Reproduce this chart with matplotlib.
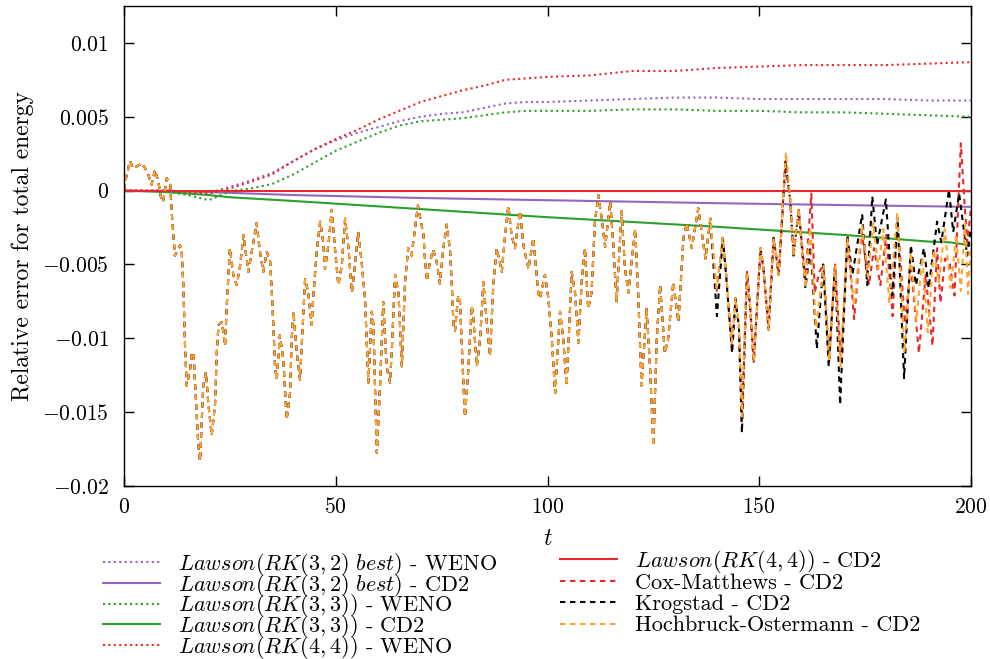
import numpy as np
import matplotlib
matplotlib.use("Agg")
import matplotlib.pyplot as plt
from matplotlib.ticker import FuncFormatter, FixedLocator

plt.rcParams['font.family'] = 'serif'
plt.rcParams['font.serif'] = ['cmr10', 'DejaVu Serif']
plt.rcParams['mathtext.fontset'] = 'cm'
plt.rcParams['axes.unicode_minus'] = False
plt.rcParams['axes.formatter.use_mathtext'] = True

# values, energy error in units of 1e-3
# smooth Lawson curves (WENO, dotted)
t_weno = [0, 10, 15, 20, 25, 30, 35, 40, 45, 50, 55, 60, 65, 70, 75, 80, 85, 90, 95,
          100, 110, 120, 130, 140, 150, 160, 170, 180, 190, 200]
rk44_weno = [0, 0, -0.1, -0.2, 0.15, 0.6, 1.1, 2.0, 2.8, 3.5, 4.1, 4.8, 5.4, 6.0, 6.4,
             6.8, 7.1, 7.5, 7.6, 7.7, 7.8, 8.1, 8.1, 8.3, 8.4, 8.5, 8.5, 8.5, 8.6, 8.7]
rk32_weno = [0, 0, -0.1, -0.15, 0.25, 0.7, 1.2, 2.0, 2.8, 3.4, 3.9, 4.3, 4.7, 5.0, 5.2,
             5.3, 5.6, 5.9, 6.0, 6.0, 6.1, 6.2, 6.3, 6.3, 6.2, 6.2, 6.2, 6.2, 6.1, 6.1]
rk33_weno = [0, -0.05, -0.3, -0.65, -0.05, 0.15, 0.45, 1.1, 1.9, 2.7, 3.3, 3.9, 4.4, 4.7,
             4.8, 4.9, 5.1, 5.3, 5.4, 5.4, 5.4, 5.5, 5.5, 5.4, 5.4, 5.3, 5.3, 5.2, 5.1, 5.0]

# Lawson curves (CD2, solid)
t_cd2 = [0, 10, 20, 25, 40, 70, 100, 140, 170, 190, 195, 200]
rk32_cd2 = [0, -0.02, -0.1, -0.15, -0.3, -0.5, -0.65, -0.85, -0.98, -1.06, -1.08, -1.1]
rk33_cd2 = [0, -0.1, -0.3, -0.45, -0.7, -1.25, -1.8, -2.45, -3.0, -3.45, -3.5, -3.7]
rk44_cd2 = [0, 0, 0, 0, 0, 0, 0, 0, 0, 0, 0, 0]

# exponential integrators, common part up to t ~ 136
t_common = [0.0, 0.4, 1.4, 2.2, 4.2, 5.0, 5.75, 6.5, 7.3, 8.1, 8.9, 9.3, 10.1, 10.9, 11.3,
            11.65, 12.0, 13.2, 13.6, 14.0, 14.4, 14.8, 15.6, 16.0, 16.4, 16.8, 17.55, 17.95,
            18.7, 19.35, 19.9, 20.7, 21.5, 21.9, 22.3, 23.1, 23.85, 24.25, 24.6, 25.0, 25.8,
            26.6, 27.4, 28.2, 29.35, 30.15, 31.3, 32.1, 32.9, 33.7, 34.5, 34.9, 35.25, 35.65,
            36.05, 36.8, 37.6, 38.4, 39.2, 39.6, 40.0, 40.8, 41.55, 41.95, 42.75, 43.5, 44.3,
            44.7, 45.5, 46.3, 47.05, 47.45, 48.25, 49.05, 49.8, 50.6, 51.4, 52.2, 53.0, 53.8,
            54.5, 55.3, 56.1, 56.9, 57.7, 58.5, 58.9, 59.3, 59.7, 60.45, 61.2, 62.0, 62.8,
            63.2, 64.0, 64.8, 65.6, 66.35, 67.1, 67.9, 69.4, 70.7, 71.1, 71.5, 72.25, 73.0,
            73.8, 74.6, 75.4, 76.2, 77.0, 77.4, 77.8, 78.15, 78.9, 79.3, 80.1, 80.5, 81.3,
            82.1, 82.5, 83.3, 84.1, 84.85, 85.6, 86.4, 87.2, 88.0, 89.2, 90.0, 90.75, 91.5,
            92.3, 93.5, 94.3, 95.5, 96.65, 97.8, 98.2, 99.4, 100.2, 101.0, 101.8, 102.95,
            103.7, 104.5, 105.7, 106.5, 107.3, 108.1, 108.85, 109.6, 110.4, 111.2, 112.0,
            112.8, 113.6, 114.8, 115.5, 116.3, 117.5, 118.3, 119.1, 120.7, 121.4, 122.2,
            123.4, 124.2, 125.0, 125.8, 126.6, 127.7, 128.5, 129.7, 130.9, 132.1, 132.9,
            134.05, 135.6]
v_common = [0.05, 0.75, 2.0, 1.5, 1.85, 1.5, 1.07, 0.4, 1.4, 0.6, -0.75, -0.63, 0.84, 0.4,
            -1.65, -3.0, -4.4, -3.7, -4.0, -6.4, -10.5, -13.2, -12.1, -11.0, -11.0, -13.2,
            -17.3, -18.3, -13.2, -12.3, -14.4, -16.6, -14.4, -11.0, -9.1, -8.9, -10.5, -7.8,
            -6.0, -3.9, -5.7, -6.4, -5.1, -3.0, -5.5, -4.15, -2.2, -4.15, -5.5, -4.15, -4.8,
            -6.9, -9.1, -11.9, -12.8, -9.8, -11.4, -15.5, -13.7, -10.0, -8.2, -11.0, -12.8,
            -10.5, -6.0, -6.9, -9.1, -7.1, -4.15, -2.1, -3.5, -5.3, -3.7, -1.3, -3.9, -6.4,
            -5.1, -1.9, -3.9, -6.9, -5.1, -2.8, -4.8, -7.3, -13.0, -8.2, -9.1, -13.7, -17.75,
            -13.2, -7.55, -11.9, -13.0, -11.0, -5.7, -6.9, -11.9, -6.2, -3.9, -4.4, -1.0,
            -3.0, -4.8, -6.1, -4.8, -4.0, -4.8, -6.3, -3.9, -2.3, -4.15, -6.4, -9.1, -9.5,
            -7.1, -7.3, -12.8, -15.3, -12.1, -7.8, -8.7, -11.9, -10.0, -6.2, -8.7, -11.2,
            -6.4, -3.9, -5.5, -3.0, -1.0, -3.0, -3.9, -1.4, -3.7, -5.3, -3.2, -6.9, -7.3,
            -5.7, -7.3, -10.0, -13.7, -8.2, -10.0, -13.2, -5.5, -6.9, -10.3, -6.0, -3.9,
            -8.0, -6.9, -2.1, -0.3, -1.9, -3.8, -0.75, -3.5, -7.55, -1.4, -5.3, -6.9, -2.6,
            -6.9, -13.2, -8.0, -11.9, -17.3, -10.0, -6.4, -11.0, -10.0, -6.2, -8.9, -3.2,
            -2.2, -3.9, -1.2]

# tails where the three methods drift apart
t_ho_tail = [137.3, 138.45, 139.9, 141.4, 142.1, 143.5, 144.4, 145.2, 145.9, 147.1, 147.9,
             148.7, 150.3, 151.0, 152.2, 153.4, 154.6, 155.4, 156.3, 157.3, 158.1, 159.3,
             160.9, 162.0, 163.4, 165.2, 166.5, 167.9, 169.2, 170.8, 172.4, 174.3, 175.6,
             176.9, 178.1, 179.3, 180.7, 182.6, 184.3, 185.8, 187.1, 188.5, 189.8, 191.2,
             192.4, 193.8, 195.2, 196.5, 197.6, 198.6, 199.3, 200.0]
v_ho_tail = [-4.6, -1.9, -6.6, -3.2, -5.3, -10.3, -7.3, -9.0, -15.3, -5.5, -8.0, -11.6,
             -3.9, -5.3, -9.4, -3.2, -5.7, -1.6, 2.6, -0.5, -4.4, -1.2, -6.6, -2.5, -9.3,
             -5.1, -11.5, -5.1, -11.9, -3.2, -7.8, -2.3, -5.8, -2.2, -5.3, -2.6, -7.6, -1.5,
             -11.0, -4.2, -8.8, -4.5, -9.6, -4.0, -6.2, -2.6, -6.6, -3.0, -6.8, -2.2, -7.0,
             -3.6]

t_kr_tail = [137.3, 138.45, 140.0, 141.4, 142.1, 143.6, 144.4, 145.2, 145.9, 147.1, 147.9,
             148.7, 150.3, 151.0, 152.2, 153.4, 154.6, 155.4, 156.2, 157.3, 158.1, 159.3,
             160.9, 162.1, 163.6, 165.1, 166.4, 167.9, 169.1, 170.8, 172.0, 174.3, 175.5,
             176.7, 177.8, 179.9, 181.4, 182.7, 184.2, 185.8, 187.0, 188.9, 190.0, 192.0,
             193.0, 194.8, 195.8, 197.2, 199.1, 200.0]
v_kr_tail = [-4.6, -1.9, -8.5, -3.2, -5.5, -11.0, -7.3, -9.3, -16.4, -5.5, -8.2, -11.6,
             -3.9, -5.3, -9.4, -3.2, -5.7, -1.8, 2.0, -0.6, -4.4, -1.3, -6.6, -3.8, -10.7,
             -5.0, -11.9, -5.0, -14.5, -3.0, -5.7, -1.6, -6.4, -0.4, -3.7, -0.6, -7.1, -2.0,
             -12.7, -3.7, -6.4, -3.9, -6.6, -2.1, -3.5, 0.05, -2.8, -0.2, -4.4, -2.5]

t_cm_tail = [137.3, 138.45, 139.9, 141.4, 142.1, 143.5, 144.4, 145.2, 145.9, 147.1, 147.9,
             148.7, 150.3, 151.0, 152.2, 153.4, 154.6, 155.4, 156.2, 157.3, 158.1, 159.3,
             160.9, 162.3, 163.1, 164.2, 165.2, 166.5, 167.9, 169.3, 170.9, 172.4, 174.2,
             175.9, 177.1, 178.6, 180.0, 181.5, 182.6, 184.4, 185.8, 187.7, 189.3, 190.9,
             192.0, 192.8, 193.9, 195.0, 196.1, 197.6, 198.4, 199.1, 200.0]
v_cm_tail = [-4.6, -1.9, -6.9, -3.2, -5.3, -10.6, -7.3, -9.2, -15.6, -5.5, -8.0, -11.6,
             -3.9, -5.3, -9.4, -3.2, -5.7, -1.8, 2.0, -0.6, -4.4, -1.3, -6.0, -0.2, -6.9,
             -5.5, -5.0, -11.6, -5.0, -11.5, -3.2, -8.7, -2.8, -6.4, -3.9, -6.4, -3.0, -8.5,
             -1.8, -9.0, -5.0, -11.0, -5.7, -10.5, -3.9, -7.6, -4.6, -5.0, -7.1, 3.2, -0.5,
             -3.5, -1.2]

t_ho = t_common + t_ho_tail
t_kr = t_common + t_kr_tail
t_cm = t_common + t_cm_tail
ho = np.array(v_common + v_ho_tail) * 1e-3
kr = np.array(v_common + v_kr_tail) * 1e-3
cm = np.array(v_common + v_cm_tail) * 1e-3

purple = '#9467bd'
green = '#2ca02c'
red = '#e8292b'
orange = '#ffa52c'
dot = (0, (1, 1.6))
dash = (0, (2.6, 2.2))
fs = 15.5
lfs = 16

fig = plt.figure(figsize=(9.9, 6.59), dpi=100)
ax = fig.add_axes([0.1253, 0.2625, 0.8555, 0.7284])

lines = []
lines += ax.plot(t_weno, np.array(rk32_weno) * 1e-3, color=purple, ls=dot, lw=1.5,
                 label=r'$Lawson(RK(3,2)\ best)$ - WENO')
lines += ax.plot(t_cd2, np.array(rk32_cd2) * 1e-3, color=purple, lw=1.5,
                 label=r'$Lawson(RK(3,2)\ best)$ - CD2')
lines += ax.plot(t_weno, np.array(rk33_weno) * 1e-3, color=green, ls=dot, lw=1.5,
                 label=r'$Lawson(RK(3,3))$ - WENO')
lines += ax.plot(t_cd2, np.array(rk33_cd2) * 1e-3, color=green, lw=1.5,
                 label=r'$Lawson(RK(3,3))$ - CD2')
lines += ax.plot(t_weno, np.array(rk44_weno) * 1e-3, color=red, ls=dot, lw=1.5,
                 label=r'$Lawson(RK(4,4))$ - WENO')
lines += ax.plot(t_cd2, np.array(rk44_cd2) * 1e-3, color=red, lw=1.5,
                 label=r'$Lawson(RK(4,4))$ - CD2')
lines += ax.plot(t_cm, cm, color=red, ls=dash, lw=1.5, label='Cox-Matthews - CD2')
lines += ax.plot(t_kr, kr, color='black', ls=dash, lw=1.5, label='Krogstad - CD2')
lines += ax.plot(t_ho, ho, color=orange, ls=dash, lw=1.5, label='Hochbruck-Ostermann - CD2')

ax.set_xlim(0, 200)
ax.set_ylim(-0.02, 0.0125)
ax.xaxis.set_major_locator(FixedLocator([0, 50, 100, 150, 200]))
ax.yaxis.set_major_locator(FixedLocator([-0.02, -0.015, -0.01, -0.005, 0, 0.005, 0.01]))
ax.xaxis.set_major_formatter(FuncFormatter(lambda v, p: r'$%g$' % v))
ax.yaxis.set_major_formatter(FuncFormatter(lambda v, p: r'$%g$' % round(v, 4)))
ax.tick_params(direction='in', length=7, width=1, top=True, right=True, labelsize=fs)
ax.tick_params(axis='x', pad=8)
ax.tick_params(axis='y', pad=11)
for s in ax.spines.values():
    s.set_linewidth(1)

ax.set_xlabel(r'$t$', fontsize=17, labelpad=8)
ax.set_ylabel('Relative error for total energy', fontsize=17, labelpad=6)

# legend built as three blocks so the rows line up like the original
kw = dict(frameon=False, fontsize=lfs, handlelength=2.57, handletextpad=0.81,
          borderpad=0, borderaxespad=0, loc='center left')
leg1 = fig.legend(lines[:5], [l.get_label() for l in lines[:5]],
                  bbox_to_anchor=(0.104, 0.0805), labelspacing=-0.28, **kw)
leg2 = fig.legend(lines[5:6], [lines[5].get_label()],
                  bbox_to_anchor=(0.566, 0.1485), **kw)
leg3 = fig.legend(lines[6:], [l.get_label() for l in lines[6:]],
                  bbox_to_anchor=(0.566, 0.083), labelspacing=0.077, **kw)

fig.savefig('out.png', dpi=100)
